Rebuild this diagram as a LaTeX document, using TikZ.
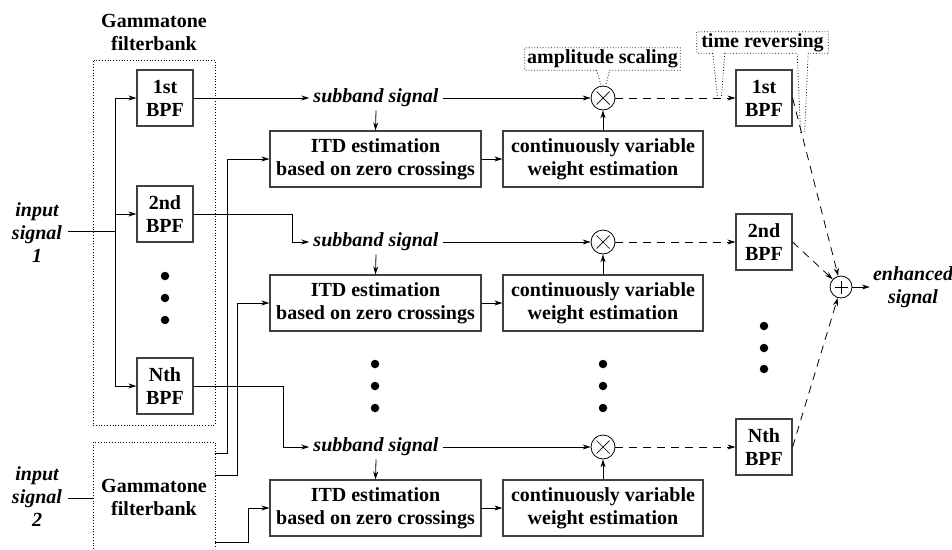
\documentclass[tikz,border=0pt]{standalone}
\usepackage{fontspec}
\setmainfont{Liberation Serif}
\usetikzlibrary{arrows.meta,calc}
\begin{document}
\begin{tikzpicture}[x=1pt,y=-1pt,
  every node/.style={font=\fontsize{20}{23}\selectfont\bfseries, inner sep=0pt, align=center},
  blk/.style={draw=black!75, line width=1.2pt, fill=white},
  bpf/.style={blk, minimum width=56pt, minimum height=56pt},
  itd/.style={blk, minimum width=211pt, minimum height=56pt},
  cvw/.style={blk, minimum width=200pt, minimum height=56pt},
  lbl/.style={font=\fontsize{20}{23}\selectfont\bfseries\itshape},
  sig/.style={lbl, inner xsep=4pt, inner ysep=3pt},
  ar/.style={-{Stealth[length=8pt,width=5pt]}, line width=0.8pt},
  ln/.style={line width=0.8pt},
  dsh/.style={ar, dash pattern=on 8pt off 6pt},
  callout/.style={dotted, line width=0.8pt},
  dotc/.style={circle, fill=black, minimum size=8.5pt, inner sep=0pt},
  op/.style={circle, draw, line width=0.8pt, minimum size=24pt, inner sep=0pt, fill=white},
  mult/.style={op, path picture={\draw[line width=0.7pt]
     ($(path picture bounding box.center)+(-6.5,-6.5)$) -- ($(path picture bounding box.center)+(6.5,6.5)$)
     ($(path picture bounding box.center)+(-6.5,6.5)$) -- ($(path picture bounding box.center)+(6.5,-6.5)$);}},
  summ/.style={op, minimum size=22pt, path picture={\draw[line width=0.7pt]
     ($(path picture bounding box.center)+(-6.5,0)$) -- ($(path picture bounding box.center)+(6.5,0)$)
     ($(path picture bounding box.center)+(0,-6.5)$) -- ($(path picture bounding box.center)+(0,6.5)$);}}]
\useasboundingbox (0,0) rectangle (952,549);

% ---------- filterbank 1 ----------
\node (gtitle) at (154,32) {Gammatone\\filterbank};
\node[draw, dotted, line width=0.8pt, minimum width=122pt, minimum height=365pt] (fb1) at (154,242.5) {};
\node[bpf] (bpf1) at (165,98) {1st\\BPF};
\node[bpf] (bpf2) at (165,214) {2nd\\BPF};
\node[bpf] (bpfn) at (165,386) {Nth\\BPF};
\node[dotc] (d1a) at (165,276) {};
\node[dotc] (d1b) at (165,298) {};
\node[dotc] (d1c) at (165,320) {};

\node[lbl, inner xsep=6pt] (in1) at (37,233) {input\\signal\\1};
\coordinate (bus) at (115,231);
\draw[ln] (in1.east |- bus) -- (bus);
\draw[ar] (bus) |- (bpf1.west);
\draw[ar] (bus) |- (bpf2.west);
\draw[ar] (bus) |- (bpfn.west);

% ---------- filterbank 2 ----------
\draw[callout] (93,549) |- (215,442) -- (215,549);
\coordinate (fb2a) at (215,453);
\coordinate (fb2b) at (215,475);
\coordinate (fb2c) at (215,542);
\coordinate (fb2in) at (93,498);
\node (gtxt) at (154,497) {Gammatone\\filterbank};
\node[lbl, inner xsep=6pt] (in2) at (37,497) {input\\signal\\2};
\draw[ln] (in2.east |- fb2in) -- (fb2in);

% ---------- channels ----------
\node[sig] (sub1) at (376,98) {subband signal};
\node[sig] (sub2) at (376,242) {subband signal};
\node[sig] (sub3) at (376,447) {subband signal};

\node[itd] (itd1) at (375.5,159) {ITD estimation\\based on zero crossings};
\node[itd] (itd2) at (375.5,303) {ITD estimation\\based on zero crossings};
\node[itd] (itd3) at (375.5,508) {ITD estimation\\based on zero crossings};

\node[cvw] (cv1) at (603,159) {continuously variable\\weight estimation};
\node[cvw] (cv2) at (603,303) {continuously variable\\weight estimation};
\node[cvw] (cv3) at (603,508) {continuously variable\\weight estimation};

\node[mult] (m1) at (603,98) {};
\node[mult] (m2) at (603,242) {};
\node[mult] (m3) at (603,447) {};

\node[dotc] (d2a) at (375,364) {};
\node[dotc] (d2b) at (375,386) {};
\node[dotc] (d2c) at (375,408) {};
\node[dotc] (d3a) at (603,364) {};
\node[dotc] (d3b) at (603,386) {};
\node[dotc] (d3c) at (603,408) {};

\node[bpf] (rb1) at (764,98) {1st\\BPF};
\node[bpf] (rb2) at (764,242) {2nd\\BPF};
\node[bpf] (rbn) at (764,447) {Nth\\BPF};
\node[dotc] (d4a) at (764,326) {};
\node[dotc] (d4b) at (764,348) {};
\node[dotc] (d4c) at (764,369) {};

\node[summ] (sum) at (841,287) {};
\node[lbl, inner xsep=3pt] (enh) at (913,287) {enhanced\\signal};

% BPF -> subband
\draw[ar] (bpf1.east) -- (sub1.west);
\draw[ar] (bpf2.east) -- ++(99,0) |- (sub2.west);
\draw[ar] (bpfn.east) -- ++(90,0) |- (sub3.west);

% filterbank 2 -> ITD
\draw[ar] (fb2a) -- ++(12,0) |- (itd1.west);
\draw[ar] (fb2b) -- ++(22,0) |- (itd2.west);
\draw[ar] (fb2c) -- ++(33,0) |- (itd3.west);

% subband -> ITD, subband -> multiplier
\foreach \i in {1,2,3}{
  \draw[ar] (sub\i.south) -- (itd\i.north);
  \draw[ar] (sub\i.east) -- (m\i.west);
  \draw[ar] (itd\i.east) -- (cv\i.west);
  \draw[ar] (cv\i.north) -- (m\i.south);
}

% multiplier -> time reversed BPF
\draw[dsh] (m1.east) -- (rb1.west);
\draw[dsh] (m2.east) -- (rb2.west);
\draw[dsh] (m3.east) -- (rbn.west);

% BPF -> sum
\draw[dsh] (rb1.east) -- (sum);
\draw[dsh] (rb2.east) -- (sum);
\draw[dsh] (rbn.east) -- (sum);
\draw[ar] (sum.east) -- (enh.west);

% ---------- callouts ----------
\node[minimum width=155pt, minimum height=22pt] (amp) at (602.5,59) {amplitude scaling};
\draw[callout] ($(amp.south)+(-6,0)$) -- (amp.south west) -- (amp.north west) -- (amp.north east)
   -- (amp.south east) -- ($(amp.south)+(7,0)$) -- ($(m1.north)+(3,-1)$);
\draw[callout] ($(amp.south)+(-6,0)$) -- ($(m1.north)+(-2,-1)$);

\node[minimum width=131pt, minimum height=21pt] (trv) at (762.5,42.5) {time reversing};
\draw[callout] ($(trv.south west)+(16,0)$) -- (trv.south west) -- (trv.north west) -- (trv.north east)
   -- (trv.south east) -- ($(trv.south east)+(-20,0)$) -- ($(rb1.south east)+(12,7)$);
\draw[callout] ($(trv.south west)+(16,0)$) -- ($(rb1.west)+(-18,-1)$);
\draw[callout] ($(trv.south west)+(28,0)$) -- ($(rb1.west)+(-14,-1)$);
\draw[callout] ($(trv.south west)+(28,0)$) -- ($(trv.south east)+(-31,0)$) -- ($(rb1.south east)+(8,7)$);
\end{tikzpicture}
\end{document}
